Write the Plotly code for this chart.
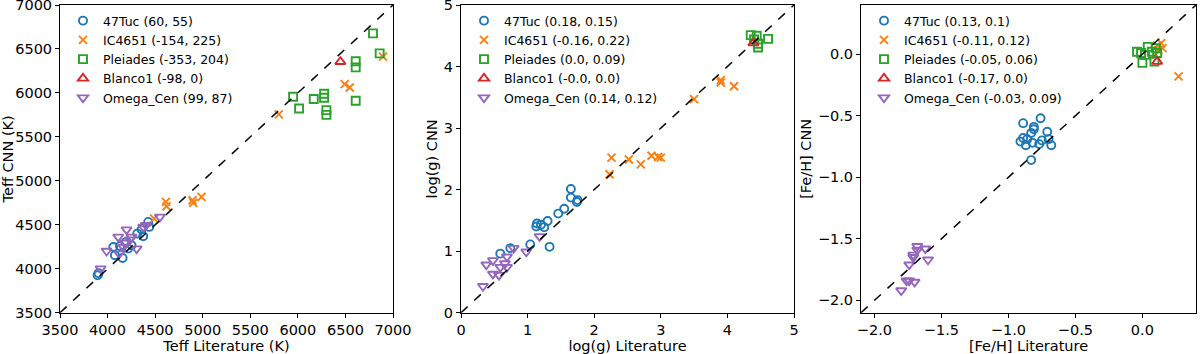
import plotly.graph_objects as go

# ---------------- data ----------------
groups = ["47Tuc", "IC4651", "Pleiades", "Blanco1", "Omega_Cen"]
colors = ["#1f77b4", "#ff7f0e", "#2ca02c", "#d62728", "#9467bd"]
symbols = ["circle-open", "x-thin", "square-open", "triangle-up-open", "triangle-down-open"]

# Teff (literature, CNN)
tuc_teff_lit = [3895, 3905, 4060, 4077, 4130, 4158, 4217, 4252, 4312, 4357, 4375, 4427, 4438, 4190]
tuc_teff_cnn = [3925, 3950, 4248, 4153, 4259, 4123, 4229, 4267, 4400, 4445, 4369, 4533, 4476, 4300]
ic_teff_lit = [6895, 6492, 6545, 5800, 4987, 4893, 4900, 4613, 4620, 4490]
ic_teff_cnn = [6412, 6100, 6062, 5755, 4817, 4779, 4750, 4760, 4711, 4570]
ple_teff_lit = [6790, 6860, 6608, 6608, 5950, 6013, 6167, 6276, 6276, 6300, 6300, 6608]
ple_teff_cnn = [6677, 6450, 6360, 6290, 5956, 5823, 5930, 5990, 5945, 5804, 5750, 5911]
bla_teff_lit = [6447]
bla_teff_cnn = [6355]
ome_teff_lit = [3927, 3990, 4112, 4200, 4165, 4182, 4235, 4252, 4305, 4375, 4403, 4550, 4123]
ome_teff_cnn = [4001, 4202, 4362, 4445, 4248, 4294, 4331, 4362, 4229, 4476, 4495, 4590, 4172]

# log(g)
tuc_logg_lit = [1.65, 1.65, 1.75, 1.74, 1.55, 1.46, 1.30, 1.25, 1.14, 1.13, 1.33, 1.04, 0.74, 0.59, 1.20]
tuc_logg_cnn = [2.01, 1.87, 1.83, 1.80, 1.69, 1.61, 1.49, 1.39, 1.45, 1.40, 1.07, 1.11, 1.05, 0.96, 1.43]
ic_logg_lit = [4.10, 3.90, 3.90, 3.50, 3.00, 2.86, 2.96, 2.70, 2.52, 2.26, 2.23]
ic_logg_cnn = [3.68, 3.78, 3.74, 3.47, 2.52, 2.55, 2.53, 2.41, 2.49, 2.52, 2.25]
ple_logg_lit = [4.35, 4.44, 4.61, 4.46, 4.46, 4.40]
ple_logg_cnn = [4.51, 4.50, 4.45, 4.37, 4.31, 4.44]
bla_logg_lit = [4.39]
bla_logg_cnn = [4.38]
ome_logg_lit = [0.79, 0.98, 1.18, 0.38, 0.48, 0.69, 0.66, 0.59, 0.48, 0.69, 0.57, 0.33]
ome_logg_cnn = [1.05, 0.99, 1.24, 0.78, 0.85, 0.91, 0.80, 0.74, 0.63, 0.74, 0.61, 0.43]

# [Fe/H]
tuc_feh_lit = [-0.76, -0.89, -0.81, -0.81, -0.71, -0.91, -0.89, -0.86, -0.87, -0.83, -0.82, -0.77, -0.75, -0.70, -0.68, -0.83]
tuc_feh_cnn = [-0.52, -0.56, -0.59, -0.61, -0.63, -0.71, -0.68, -0.69, -0.74, -0.64, -0.72, -0.73, -0.70, -0.69, -0.74, -0.86]
ic_feh_lit = [0.27, 0.14, 0.15, 0.12, 0.10, 0.11]
ic_feh_cnn = [-0.18, 0.09, 0.05, 0.035, -0.005, 0.07]
ple_feh_lit = [-0.04, 0.00, 0.04, 0.07, 0.11, 0.09, -0.01, 0.02, 0.10]
ple_feh_cnn = [0.02, -0.07, 0.06, 0.02, 0.01, -0.06, 0.01, -0.005, 0.05]
bla_feh_lit = [0.11]
bla_feh_cnn = [-0.06]
ome_feh_lit = [-1.68, -1.68, -1.62, -1.71, -1.71, -1.60, -1.74, -1.76, -1.74, -1.70, -1.80]
ome_feh_cnn = [-1.56, -1.59, -1.58, -1.63, -1.65, -1.67, -1.71, -1.84, -1.84, -1.85, -1.92]

labels_teff = ["47Tuc (60, 55)", "IC4651 (-154, 225)", "Pleiades (-353, 204)", "Blanco1 (-98, 0)", "Omega_Cen (99, 87)"]
labels_logg = ["47Tuc (0.18, 0.15)", "IC4651 (-0.16, 0.22)", "Pleiades (0.0, 0.09)", "Blanco1 (-0.0, 0.0)", "Omega_Cen (0.14, 0.12)"]
labels_feh = ["47Tuc (0.13, 0.1)", "IC4651 (-0.11, 0.12)", "Pleiades (-0.05, 0.06)", "Blanco1 (-0.17, 0.0)", "Omega_Cen (-0.03, 0.09)"]

range_teff = [3500, 7000]
range_logg = [0, 5]
range_feh = [-2.1, 0.4]

ticks_teff = [3500, 4000, 4500, 5000, 5500, 6000, 6500, 7000]
ticks_logg = [0, 1, 2, 3, 4, 5]
ticks_feh = [-2.0, -1.5, -1.0, -0.5, 0.0]

panels = [
    dict(x=[tuc_teff_lit, ic_teff_lit, ple_teff_lit, bla_teff_lit, ome_teff_lit],
         y=[tuc_teff_cnn, ic_teff_cnn, ple_teff_cnn, bla_teff_cnn, ome_teff_cnn],
         labels=labels_teff, rng=range_teff, ticks=ticks_teff, fmt="d",
         xt="Teff Literature (K)", yt="Teff CNN (K)"),
    dict(x=[tuc_logg_lit, ic_logg_lit, ple_logg_lit, bla_logg_lit, ome_logg_lit],
         y=[tuc_logg_cnn, ic_logg_cnn, ple_logg_cnn, bla_logg_cnn, ome_logg_cnn],
         labels=labels_logg, rng=range_logg, ticks=ticks_logg, fmt="d",
         xt="log(g) Literature", yt="log(g) CNN"),
    dict(x=[tuc_feh_lit, ic_feh_lit, ple_feh_lit, bla_feh_lit, ome_feh_lit],
         y=[tuc_feh_cnn, ic_feh_cnn, ple_feh_cnn, bla_feh_cnn, ome_feh_cnn],
         labels=labels_feh, rng=range_feh, ticks=ticks_feh, fmt=".1f",
         xt="[Fe/H] Literature", yt="[Fe/H] CNN"),
]

W, H = 1200, 354
xdoms = [(60, 393), (461, 794), (861, 1196)]
ytop, ybot = 5, 312.7
ydom = [1 - ybot / H, 1 - ytop / H]

FONT = "DejaVu Sans"
TS = 14.5
fig = go.Figure()
layout = dict(width=W, height=H, margin=dict(l=0, r=0, t=0, b=0, autoexpand=False),
              paper_bgcolor="white", plot_bgcolor="white",
              font=dict(family=FONT, size=TS, color="black"), showlegend=True)

for i, p in enumerate(panels):
    n = "" if i == 0 else str(i + 1)
    xa, ya = "x" + n, "y" + n
    leg = "legend" + n
    for g in range(5):
        sym = symbols[g]
        fig.add_trace(go.Scatter(
            x=p["x"][g], y=p["y"][g], mode="markers", name=p["labels"][g],
            xaxis=xa, yaxis=ya, legend=leg,
            marker=dict(symbol=sym, size=9 if "triangle" in sym else 8,
                        color=colors[g],
                        line=dict(color=colors[g], width=1.9)),
        ))
    fig.add_trace(go.Scatter(
        x=p["rng"], y=p["rng"], mode="lines", xaxis=xa, yaxis=ya,
        line=dict(color="black", dash="dash", width=1.5), showlegend=False,
        hoverinfo="skip"))

    common = dict(showline=True, linecolor="black", linewidth=1, mirror=True,
                  ticks="outside", ticklen=4, tickwidth=1, tickcolor="black",
                  showgrid=False, zeroline=False, range=p["rng"],
                  tickvals=p["ticks"], tickformat=p["fmt"],
                  ticklabeloverflow="allow", automargin=False,
                  tickfont=dict(family=FONT, size=TS, color="black"))
    layout["xaxis" + n] = dict(common, domain=[xdoms[i][0] / W, xdoms[i][1] / W],
                               anchor=ya,
                               title=dict(text=p["xt"], standoff=2,
                                          font=dict(family=FONT, size=TS)))
    layout["yaxis" + n] = dict(common, domain=ydom, anchor=xa,
                               title=dict(text=p["yt"], standoff=2,
                                          font=dict(family=FONT, size=TS)))
    layout[leg] = dict(x=(xdoms[i][0] + 3) / W, y=1 - 6 / H,
                       xanchor="left", yanchor="top",
                       bgcolor="rgba(0,0,0,0)", borderwidth=0,
                       font=dict(family=FONT, size=12.5, color="black"),
                       tracegroupgap=0, itemwidth=30)

fig.update_layout(**layout)
fig.write_html("out.html", config={"displayModeBar": False},
               post_script="document.body.style.margin='0';document.body.style.padding='0';")
